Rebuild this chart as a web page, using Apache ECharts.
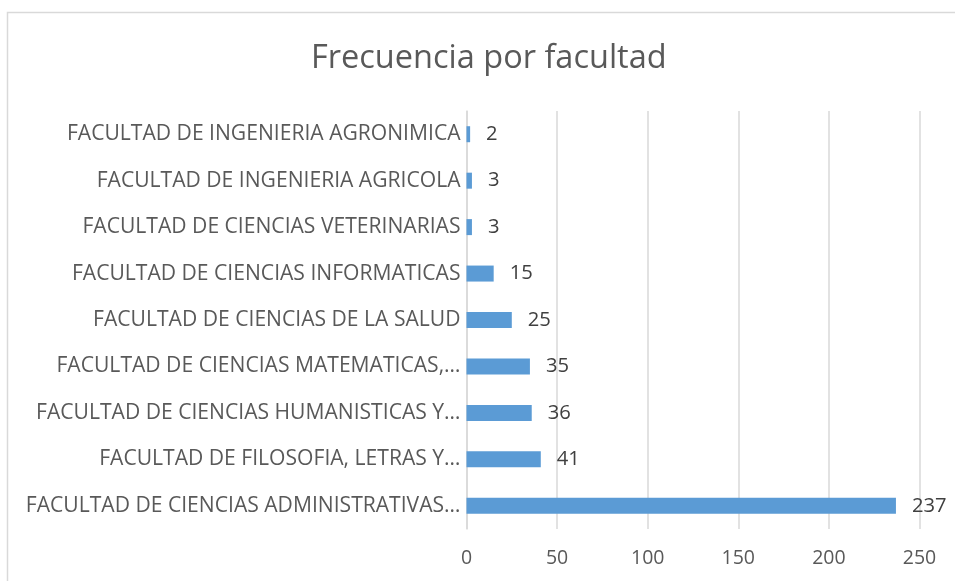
<!DOCTYPE html>
<html><head><meta charset="utf-8">
<script src="https://cdn.jsdelivr.net/npm/echarts@6/dist/echarts.min.js"></script>
<style>html,body{margin:0;padding:0;background:#fff}#c{width:955px;height:581px}</style>
</head><body><div id="c"></div>
<script>
const categories = [
  "FACULTAD DE CIENCIAS ADMINISTRATIVAS…",
  "FACULTAD DE FILOSOFIA, LETRAS Y…",
  "FACULTAD DE CIENCIAS HUMANISTICAS Y…",
  "FACULTAD DE CIENCIAS MATEMATICAS,…",
  "FACULTAD DE CIENCIAS DE LA SALUD",
  "FACULTAD DE CIENCIAS INFORMATICAS",
  "FACULTAD DE CIENCIAS VETERINARIAS",
  "FACULTAD DE INGENIERIA AGRICOLA",
  "FACULTAD DE INGENIERIA AGRONIMICA"
];
const values = [237, 41, 36, 35, 25, 15, 3, 3, 2];
const titleText = "Frecuencia por facultad";

const chart = echarts.init(document.getElementById('c'), null, {renderer:'canvas'});
chart.setOption({
  animation: false,
  backgroundColor: '#fff',
  graphic: [{
    type: 'rect', shape: {x: 7.5, y: 12.5, width: 960, height: 600},
    style: {fill: 'none', stroke: '#d9d9d9', lineWidth: 1.5}, silent: true
  }],
  title: {
    text: titleText, left: 306, top: 37,
    textStyle: {fontFamily: 'Open Sans', fontSize: 32.5, fontWeight: 'normal', color: '#595959'}
  },
  grid: {left: 466.5, right: 35.5, top: 111, bottom: 52, containLabel: false},
  xAxis: {
    type: 'value', min: 0, max: 250, interval: 50,
    axisLine: {show: false}, axisTick: {show: false},
    splitLine: {lineStyle: {color: '#d9d9d9', width: 1.5}},
    axisLabel: {fontFamily: 'Open Sans', fontSize: 19.5, color: '#595959', margin: 19}
  },
  yAxis: {
    type: 'category', data: categories,
    axisLine: {show: true, lineStyle: {color: '#d9d9d9', width: 1.5}},
    axisTick: {show: false},
    axisLabel: {fontFamily: 'Open Sans', fontSize: 21.1, color: '#595959', margin: 6}
  },
  series: [{
    type: 'bar', data: values, barWidth: 16,
    itemStyle: {color: '#5b9bd5'},
    label: {show: true, position: 'right', distance: 16,
      fontFamily: 'Open Sans', fontSize: 20.2, color: '#404040'}
  }]
});
</script></body></html>
